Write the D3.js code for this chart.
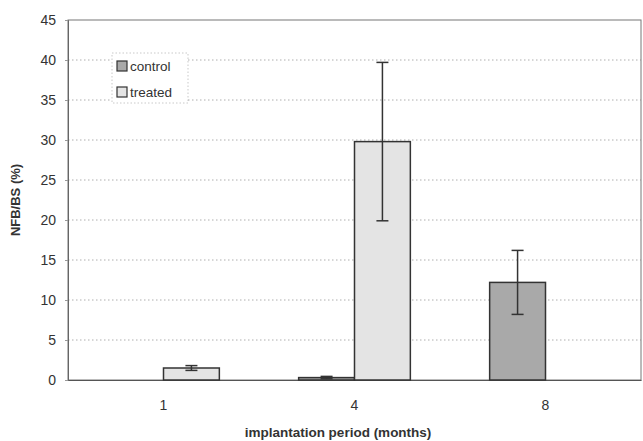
<!DOCTYPE html>
<html><head><meta charset="utf-8">
<script src="https://cdn.jsdelivr.net/npm/d3@7"></script>
<style>body{margin:0;background:#fff}svg{display:block}text{font-family:"Liberation Sans",Arial,sans-serif}</style>
</head><body>
<svg id="c" width="643" height="441"></svg>
<script>
const categories = ["1", "4", "8"];
const seriesNames = ["control", "treated"];
const controlValues = [0, 0.3, 12.2];
const controlErrors = [0, 0.15, 4];
const treatedValues = [1.5, 29.8, 0];
const treatedErrors = [0.3, 9.9, 0];
const yTicks = [0, 5, 10, 15, 20, 25, 30, 35, 40, 45];

const svg = d3.select("#c");
const m = {l: 68, r: 641, t: 20, b: 380};
const x = d3.scaleBand().domain(categories).range([m.l, m.r]).paddingInner(0).paddingOuter(0);
const xs = d3.scaleBand().domain(seriesNames).range([0, x.bandwidth()]).paddingInner(0).paddingOuter(0.71);
const y = d3.scaleLinear().domain([0, 45]).range([m.b, m.t]);

const colors = {control: "#a9a9a9", treated: "#e4e4e4"};

// gridlines
svg.append("g").selectAll("line").data(yTicks.filter(d => d > 0 && d < 45)).join("line")
  .attr("x1", m.l).attr("x2", m.r).attr("y1", d => y(d)).attr("y2", d => y(d))
  .attr("stroke", "#9a9a9a").attr("stroke-width", 0.8).attr("stroke-dasharray", "1.5,2.5");

// frame
svg.append("rect").attr("x", m.l).attr("y", m.t).attr("width", m.r - m.l).attr("height", m.b - m.t)
  .attr("fill", "none").attr("stroke", "#777").attr("stroke-width", 1);

// y axis
const yAxis = d3.axisLeft(y).tickValues(yTicks).tickSize(3).tickPadding(9);
const gy = svg.append("g").attr("transform", `translate(${m.l},0)`).call(yAxis);
gy.select(".domain").attr("stroke", "#666");
gy.selectAll(".tick line").attr("stroke", "#999");
gy.selectAll("text").attr("font-size", 14).attr("fill", "#333");

// x axis
const xAxis = d3.axisBottom(x).tickSize(0).tickPadding(20);
const gx = svg.append("g").attr("transform", `translate(0,${m.b})`).call(xAxis);
gx.select(".domain").attr("stroke", "#555").attr("stroke-width", 1.2);
gx.selectAll("text").attr("font-size", 14).attr("fill", "#333");

const data = categories.map((c, i) => ({
  cat: c,
  bars: [
    {s: "control", v: controlValues[i], e: controlErrors[i]},
    {s: "treated", v: treatedValues[i], e: treatedErrors[i]}
  ]
}));

const groups = svg.append("g").selectAll("g").data(data).join("g")
  .attr("transform", d => `translate(${x(d.cat)},0)`);

groups.selectAll("rect").data(d => d.bars.filter(b => b.v > 0)).join("rect")
  .attr("x", b => xs(b.s)).attr("width", xs.bandwidth())
  .attr("y", b => y(b.v)).attr("height", b => y(0) - y(b.v))
  .attr("fill", b => colors[b.s]).attr("stroke", "#333").attr("stroke-width", 1.5);

const eb = groups.selectAll("g.err").data(d => d.bars.filter(b => b.e > 0)).join("g").attr("class", "err");
eb.append("line")
  .attr("x1", b => xs(b.s) + xs.bandwidth() / 2).attr("x2", b => xs(b.s) + xs.bandwidth() / 2)
  .attr("y1", b => y(b.v + b.e)).attr("y2", b => y(b.v - b.e))
  .attr("stroke", "#333").attr("stroke-width", 1.5);
eb.selectAll("line.cap").data(b => [b.v + b.e, b.v - b.e].map(v => ({b, v}))).join("line").attr("class", "cap")
  .attr("x1", d => xs(d.b.s) + xs.bandwidth() / 2 - 6).attr("x2", d => xs(d.b.s) + xs.bandwidth() / 2 + 6)
  .attr("y1", d => y(d.v)).attr("y2", d => y(d.v))
  .attr("stroke", "#333").attr("stroke-width", 1.5);

// legend
const lg = svg.append("g");
lg.append("rect").attr("x", 112).attr("y", 53).attr("width", 76).attr("height", 50)
  .attr("fill", "#fff").attr("stroke", "#bbb").attr("stroke-width", 0.8).attr("stroke-dasharray", "1.5,2");
seriesNames.forEach((s, i) => {
  const yy = 66 + i * 26;
  lg.append("rect").attr("x", 117).attr("y", yy - 5).attr("width", 10).attr("height", 10)
    .attr("fill", colors[s]).attr("stroke", "#333").attr("stroke-width", 1.2);
  lg.append("text").attr("x", 130).attr("y", yy + 5).attr("font-size", 13.5).attr("fill", "#333").text(s);
});

// axis titles
svg.append("text").attr("transform", "translate(20,200) rotate(-90)").attr("text-anchor", "middle")
  .attr("font-size", 13).attr("font-weight", "bold").attr("fill", "#333").text("NFB/BS (%)");
svg.append("text").attr("x", 338).attr("y", 437).attr("text-anchor", "middle")
  .attr("font-size", 13.5).attr("font-weight", "bold").attr("fill", "#333").text("implantation period (months)");
</script>
</body></html>
